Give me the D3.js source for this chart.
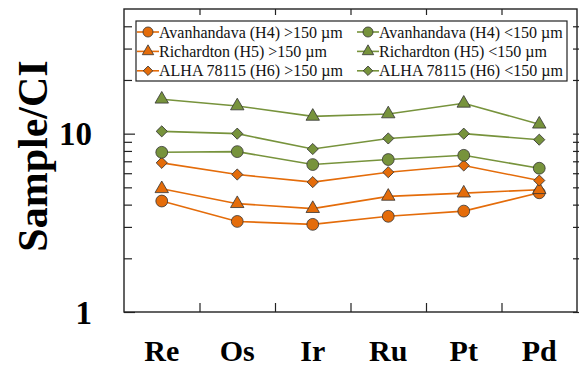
<!DOCTYPE html>
<html>
<head>
<meta charset="utf-8">
<script src="https://cdn.jsdelivr.net/npm/d3@7"></script>
<style>
body{margin:0;background:#fff}
svg{display:block;font-family:'Liberation Serif','Times New Roman',serif}
</style>
</head>
<body>
<svg id="chart" width="579" height="368"></svg>
<script>
// data
var elements   = ['Re','Os','Ir','Ru','Pt','Pd'];
var avanCoarse = [4.19,3.22,3.10,3.44,3.68,4.66];
var richCoarse = [4.91,4.05,3.80,4.45,4.64,4.85];
var alhaCoarse = [6.86,5.90,5.35,6.08,6.63,5.46];
var avanFine   = [7.86,7.93,6.71,7.16,7.56,6.40];
var richFine   = [15.6,14.3,12.5,12.9,14.8,11.3];
var alhaFine   = [10.3,10.0,8.2,9.4,10.0,9.25];
var yTicks     = [1,10];
var orange = '#E46C0A', green = '#77933C';

var series = [
  {name:'Avanhandava (H4) >150 \u00b5m',  vals:avanCoarse, col:orange, shape:'circle'},
  {name:'Avanhandava (H4) <150 \u00b5m',  vals:avanFine,   col:green,  shape:'circle'},
  {name:'Richardton (H5) >150 \u00b5m',   vals:richCoarse, col:orange, shape:'triangle'},
  {name:'Richardton (H5) <150 \u00b5m',   vals:richFine,   col:green,  shape:'triangle'},
  {name:'ALHA 78115 (H6)  >150 \u00b5m',  vals:alhaCoarse, col:orange, shape:'diamond'},
  {name:'ALHA 78115 (H6) <150 \u00b5m',   vals:alhaFine,   col:green,  shape:'diamond'}
];

var L = 124, R = 577, T = 9, B = 312;
var svg = d3.select('#chart');
var x = d3.scaleBand().domain(elements).range([L,R]).padding(0);
var y = d3.scaleLog().domain([1,50]).range([B,T]);
var xc = function(d){return x(d)+x.bandwidth()/2;};

function sym(shape,big){
  var k = big ? 1 : 0.72;
  if (shape=='circle')   return d3.symbol(d3.symbolCircle,110*k)();
  if (shape=='triangle') return d3.symbol(d3.symbolTriangle,78*k)();
  return d3.symbol(d3.symbolSquare,62*k)();
}
function rot(shape){return shape=='diamond' ? ' rotate(45)' : '';}

// ticks: majors, minors, mirrored on the right and top
var minors = d3.range(2,10).concat([20,30,40]);
svg.append('g').attr('transform','translate('+L+',0)')
  .call(d3.axisRight(y).tickValues(yTicks).tickSize(11).tickFormat(''));
svg.append('g').attr('transform','translate('+L+',0)')
  .call(d3.axisRight(y).tickValues(minors).tickSize(8).tickFormat(''));
svg.append('g').attr('transform','translate('+(R-4)+',0)')
  .call(d3.axisRight(y).tickValues(yTicks.concat(minors)).tickSize(8).tickFormat(''));
var xTickPos = elements.slice(1).map(function(d){return x(d);});
var xt = d3.scaleLinear().domain([L,R]).range([L,R]);
svg.append('g').attr('transform','translate(0,'+B+')')
  .call(d3.axisTop(xt).tickValues(xTickPos).tickSize(9).tickFormat(''));
svg.append('g').attr('transform','translate(0,'+T+')')
  .call(d3.axisBottom(xt).tickValues(xTickPos).tickSize(6).tickFormat(''));
svg.selectAll('.domain').remove();
svg.selectAll('.tick line').attr('stroke','#222').attr('stroke-width',1.2);

svg.append('rect').attr('x',L).attr('y',T).attr('width',R-L).attr('height',B-T)
  .attr('fill','none').attr('stroke','#222').attr('stroke-width',1.4);

// tick labels
svg.selectAll('.ylab').data(yTicks).enter().append('text')
  .attr('x',92).attr('y',function(d){return y(d);}).attr('dy','0.35em')
  .attr('text-anchor','end').attr('font-weight','bold').attr('font-size',33)
  .text(function(d){return d;});
svg.selectAll('.xlab').data(elements).enter().append('text')
  .attr('x',xc).attr('y',361)
  .attr('text-anchor','middle').attr('font-weight','bold').attr('font-size',30)
  .text(function(d){return d;});
svg.append('text').attr('transform','translate(47,156) rotate(-90)')
  .attr('text-anchor','middle').attr('font-weight','bold').attr('font-size',42)
  .text('Sample/CI');

// series: lines first, then markers on top
var line = d3.line().x(function(d,i){return xc(elements[i]);}).y(function(d){return y(d);});
var order = [0,2,4,1,3,5];
order.forEach(function(i){
  var s = series[i];
  svg.append('path').datum(s.vals).attr('d',line)
    .attr('fill','none').attr('stroke',s.col).attr('stroke-width',1.6);
});
order.forEach(function(i){
  var s = series[i];
  svg.append('g').selectAll('path').data(s.vals).enter().append('path')
    .attr('d',sym(s.shape,true))
    .attr('transform',function(d,j){return 'translate('+xc(elements[j])+','+y(d)+')'+rot(s.shape);})
    .attr('fill',s.col).attr('stroke','#333').attr('stroke-width',0.8);
});

// legend
var lg = svg.append('g');
lg.append('rect').attr('x',136).attr('y',21).attr('width',431).attr('height',60)
  .attr('fill','#fff').attr('stroke','#222').attr('stroke-width',1.2);
series.forEach(function(s,i){
  var col = i%2, row = Math.floor(i/2);
  var mx = col ? 368 : 148, my = 32 + row*19.4;
  lg.append('line').attr('x1',mx-11).attr('x2',mx+11).attr('y1',my).attr('y2',my)
    .attr('stroke',s.col).attr('stroke-width',1.6);
  lg.append('path').attr('d',sym(s.shape,false))
    .attr('transform','translate('+mx+','+my+')'+rot(s.shape))
    .attr('fill',s.col).attr('stroke','#333').attr('stroke-width',0.8);
  lg.append('text').attr('x',mx+11).attr('y',my).attr('dy','0.35em')
    .attr('font-size',16).attr('fill','#111').text(s.name);
});
</script>
</body>
</html>
